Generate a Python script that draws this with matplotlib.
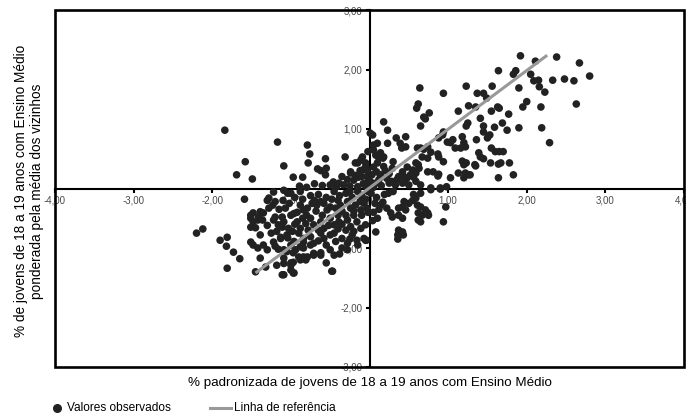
import matplotlib
matplotlib.use("Agg")
import matplotlib.pyplot as plt
import numpy as np
from matplotlib.lines import Line2D
from matplotlib.patches import Rectangle
from matplotlib.ticker import FuncFormatter

plt.rcParams["font.family"] = ["Liberation Sans", "DejaVu Sans"]

# valores observados, por quadrante
pts_sup_esq = [
    (-1.84, 0.98), (-1.17, 0.78), (-0.79, 0.73), (-0.76, 0.58), (-1.58, 0.45),
    (-1.69, 0.23), (-1.49, 0.16), (-1.09, 0.38), (-0.97, 0.19), (-0.85, 0.19),
    (-0.78, 0.43), (-0.66, 0.33), (-0.62, 0.30), (-0.56, 0.50), (-0.55, 0.34),
    (-0.56, 0.23), (-0.31, 0.53), (-0.15, 0.43), (-0.09, 0.53), (-0.05, 0.36),
    (-0.46, 0.11), (-0.50, 0.06), (-0.39, 0.09), (-0.33, 0.06), (-0.24, 0.26),
    (-0.20, 0.14), (-0.15, 0.03), (-0.03, 0.30), (-0.10, 0.20), (-0.60, 0.05),
    (-0.70, 0.08), (-0.28, 0.15), (-0.02, 0.12), (-0.08, 0.08), (-0.35, 0.20),
    (-0.12, 0.30), (-0.42, 0.03), (-0.25, 0.04), (-0.05, 0.05), (-0.18, 0.22),
    (-0.89, 0.04), (-0.80, 0.02), (-0.18, 0.43), (-0.11, 0.48), (-0.05, 0.43),
    (-0.24, 0.28), (-0.14, 0.19), (-0.09, 0.31), (-0.03, 0.20), (-0.02, 0.62),
]

pts_sup_dir = [
    (1.92, 2.23), (2.11, 2.14), (2.38, 2.21), (2.67, 2.11), (2.80, 1.89),
    (2.48, 1.84), (2.60, 1.81), (2.33, 1.82), (2.05, 1.92), (2.09, 1.81),
    (2.15, 1.82), (2.16, 1.71), (2.23, 1.62), (1.83, 1.92), (1.86, 1.98),
    (1.90, 1.69), (2.00, 1.46), (1.95, 1.37), (2.18, 1.37), (2.63, 1.42),
    (2.19, 1.02), (2.29, 0.77), (1.90, 1.02), (1.64, 1.98), (1.56, 1.72),
    (1.37, 1.60), (1.45, 1.60), (1.49, 1.52), (1.23, 1.72), (0.94, 1.60),
    (0.64, 1.69), (0.62, 1.42), (0.60, 1.35), (0.69, 1.20), (0.71, 1.17),
    (0.76, 1.27), (0.65, 1.05), (1.13, 1.30), (1.26, 1.39), (1.35, 1.37),
    (1.55, 1.30), (1.63, 1.37), (1.65, 1.35), (1.77, 1.25), (1.69, 1.10),
    (1.75, 0.98), (1.59, 1.03), (1.41, 1.18), (1.45, 1.05), (1.45, 0.95),
    (1.53, 0.90), (1.50, 0.85), (1.25, 1.10), (1.23, 1.05), (1.36, 0.82),
    (1.18, 0.87), (1.20, 0.77), (1.22, 0.70), (1.09, 0.68), (1.16, 0.68),
    (0.94, 0.95), (0.93, 0.90), (0.99, 0.78), (1.06, 0.82), (1.03, 0.77),
    (0.88, 0.85), (1.39, 0.60), (1.41, 0.53), (1.45, 0.50), (1.55, 0.68),
    (1.60, 0.62), (1.65, 0.62), (1.70, 0.62), (1.54, 0.43), (1.64, 0.41),
    (1.67, 0.43), (1.78, 0.43), (1.35, 0.38), (1.64, 0.18), (1.83, 0.23),
    (1.18, 0.46), (1.21, 0.43), (1.23, 0.43), (1.20, 0.40), (1.13, 0.26),
    (1.22, 0.26), (1.26, 0.23), (1.20, 0.18), (1.03, 0.18), (0.94, 0.45),
    (0.87, 0.58), (0.88, 0.53), (0.74, 0.70), (0.69, 0.66), (0.78, 0.61),
    (0.65, 0.68), (0.61, 0.68), (0.67, 0.53), (0.74, 0.51), (0.59, 0.43),
    (0.62, 0.40), (0.74, 0.28), (0.81, 0.28), (0.88, 0.24), (0.87, 0.21),
    (0.48, 0.36), (0.55, 0.31), (0.59, 0.26), (0.52, 0.23), (0.43, 0.21),
    (0.56, 0.19), (0.48, 0.18), (0.34, 0.85), (0.39, 0.76), (0.46, 0.87),
    (0.41, 0.68), (0.46, 0.70), (0.23, 0.76), (0.18, 1.12), (0.23, 0.98),
    (0.05, 0.73), (0.10, 0.76), (0.01, 0.93), (0.04, 0.90), (0.05, 0.65),
    (0.14, 0.60), (0.18, 0.53), (0.17, 0.51), (0.05, 0.36), (0.10, 0.43),
    (0.09, 0.28), (0.65, 0.06), (0.78, 0.01), (0.90, 0.01), (0.98, 0.03),
    (0.08, 0.56), (0.12, 0.51), (0.18, 0.37), (0.25, 0.25), (0.29, 0.34),
    (0.14, 0.23), (0.03, 0.23), (0.01, 0.12), (0.08, 0.09), (0.22, 0.17),
    (0.25, 0.09), (0.33, 0.06), (0.42, 0.09), (0.50, 0.06), (0.59, 0.12),
    (0.37, 0.20), (0.42, 0.28), (0.63, 0.34), (0.30, 0.45), (0.35, 0.15),
    (0.15, 0.05), (0.05, 0.02), (0.20, 0.30), (0.28, 0.12), (0.45, 0.15),
    (0.12, 0.15), (1.28, 0.23), (1.34, 0.40),
]

pts_inf_dir = [
    (0.17, -0.23), (0.14, -0.28), (0.27, -0.41), (0.29, -0.48), (0.37, -0.33),
    (0.42, -0.31), (0.46, -0.36), (0.37, -0.45), (0.42, -0.50), (0.59, -0.16),
    (0.61, -0.28), (0.65, -0.31), (0.62, -0.41), (0.67, -0.45), (0.71, -0.36),
    (0.74, -0.41), (0.75, -0.45), (0.62, -0.53), (0.65, -0.56), (0.97, -0.31),
    (0.94, -0.56), (0.37, -0.70), (0.42, -0.73), (0.36, -0.78), (0.39, -0.75),
    (0.43, -0.78), (0.36, -0.85), (0.08, -0.73), (0.50, -0.25), (0.55, -0.20),
    (0.44, -0.22), (0.19, -0.10), (0.24, -0.08), (0.30, -0.05), (0.56, -0.10),
    (0.65, -0.08), (0.78, -0.02), (0.90, -0.01), (0.10, -0.50), (0.04, -0.54),
    (0.05, -0.40), (0.22, -0.33), (0.09, -0.15), (0.02, -0.08), (0.12, -0.35),
    (0.07, -0.25),
]

pts_inf_esq = [
    (-2.20, -0.75), (-2.12, -0.68), (-1.90, -0.87), (-1.81, -0.82), (-1.82, -0.97),
    (-1.73, -1.07), (-1.65, -1.18), (-1.81, -1.34), (-1.59, -0.18), (-1.28, -0.16),
    (-1.45, -1.40), (-1.32, -1.32), (-1.18, -1.29), (-1.09, -1.45), (-0.97, -1.42),
    (-1.00, -1.37), (-0.47, -1.39),
    (-1.51, -0.45), (-1.48, -0.41), (-1.41, -0.48), (-1.36, -0.53), (-1.48, -0.56),
    (-1.35, -0.41), (-1.39, -0.39), (-1.42, -0.53), (-1.51, -0.50), (-1.45, -0.66),
    (-1.51, -0.65), (-1.22, -0.53), (-1.20, -0.48), (-1.11, -0.48), (-1.16, -0.61),
    (-1.11, -0.65), (-1.28, -0.33), (-1.23, -0.28), (-1.39, -0.78), (-1.51, -0.90),
    (-1.48, -0.95), (-1.42, -1.00), (-1.35, -0.95), (-1.30, -1.03), (-1.22, -0.90),
    (-1.39, -1.17), (-1.20, -0.97), (-1.16, -1.02),
    (-1.13, -0.82), (-1.04, -0.83), (-1.00, -0.95), (-1.09, -1.03), (-0.97, -1.08),
    (-0.88, -0.98), (-0.84, -0.90), (-0.88, -1.20), (-0.84, -1.15), (-0.71, -1.12),
    (-0.62, -1.08), (-0.97, -1.24), (-1.00, -1.25), (-1.09, -1.17),
    (-1.07, -0.33), (-1.00, -0.45), (-0.96, -0.42), (-0.88, -0.28), (-0.84, -0.36),
    (-0.79, -0.33), (-0.73, -0.25), (-0.67, -0.28), (-0.62, -0.22), (-0.54, -0.36),
    (-0.50, -0.31), (-0.43, -0.33), (-0.37, -0.28), (-0.28, -0.22), (-0.24, -0.33),
    (-0.18, -0.28), (-0.11, -0.36), (-0.07, -0.25), (-0.03, -0.33),
    (-1.09, -0.56), (-1.03, -0.67), (-0.92, -0.56), (-0.88, -0.67), (-0.81, -0.59),
    (-0.75, -0.50), (-0.71, -0.61), (-0.62, -0.56), (-0.58, -0.67), (-0.50, -0.50),
    (-0.45, -0.61), (-0.39, -0.56), (-0.28, -0.53), (-0.24, -0.64), (-0.16, -0.56),
    (-0.11, -0.67), (-0.05, -0.61),
    (-1.13, -0.84), (-1.05, -0.78), (-0.96, -0.89), (-0.90, -0.75), (-0.84, -0.84),
    (-0.75, -0.81), (-0.71, -0.92), (-0.62, -0.75), (-0.58, -0.84), (-0.50, -0.78),
    (-0.43, -0.89), (-0.35, -0.84), (-0.28, -0.92), (-0.22, -0.78), (-0.16, -0.87),
    (-0.07, -0.84), (-0.04, -0.87),
    (-1.05, -1.06), (-0.94, -1.03), (-0.84, -1.00), (-0.79, -1.15), (-0.71, -1.09),
    (-0.62, -1.12), (-0.50, -1.03), (-0.45, -1.12), (-0.35, -1.00), (-0.28, -1.03),
    (-1.09, -1.26), (-1.00, -1.29), (-0.96, -1.42), (-0.81, -1.20), (-0.48, -1.39),
    (-1.11, -1.45),
    (-0.45, -0.05), (-0.38, -0.12), (-0.30, -0.08), (-0.22, -0.15), (-0.15, -0.05),
    (-0.10, -0.12), (-0.05, -0.18), (-0.55, -0.15), (-0.65, -0.10), (-0.75, -0.12),
    (-0.85, -0.18), (-0.95, -0.15), (-1.00, -0.08), (-1.10, -0.20), (-1.20, -0.22),
    (-0.60, -0.45), (-1.09, -0.03), (-1.04, -0.08), (-1.22, -0.06), (-0.88, -0.05),
    (-0.70, -0.20), (-0.40, -0.20), (-0.25, -0.05), (-0.02, -0.05), (-0.05, -0.87),
    (-0.30, -0.45), (-0.20, -0.45), (-0.40, -0.45), (-0.85, -0.50), (-0.95, -0.60),
    (-0.65, -0.70), (-0.45, -0.75), (-0.30, -0.70), (-0.20, -0.72), (-0.10, -0.45),
    (-0.02, -0.40), (-0.55, -0.95), (-0.35, -0.60), (-0.75, -0.95), (-0.90, -1.15),
    (-0.55, -1.25), (-0.38, -1.10), (-0.25, -0.85),
    (-1.30, -0.20), (-1.15, -0.35), (-1.02, -0.25), (-0.92, -0.40), (-0.80, -0.45),
    (-0.68, -0.38), (-0.58, -0.25), (-0.48, -0.18), (-0.35, -0.38), (-0.20, -0.38),
    (-0.12, -0.22), (-1.25, -0.75), (-1.30, -0.62), (-1.18, -0.72), (-0.98, -0.72),
    (-0.78, -0.70), (-0.52, -0.62), (-0.40, -0.68), (-0.15, -0.95), (-0.65, -0.88),
]

# linha de referência (extremos)
ref_x = [-1.45, 2.26]
ref_y = [-1.42, 2.24]

x_ticks = [-4, -3, -2, -1, 0, 1, 2, 3, 4]
y_ticks = [-3, -2, -1, 0, 1, 2, 3]

obs = np.array(pts_sup_esq + pts_sup_dir + pts_inf_dir + pts_inf_esq)

fig = plt.figure(figsize=(6.86, 4.2), dpi=100)
ax = fig.add_axes([55 / 686, 53 / 420, 629 / 686, 357 / 420])
ax.set_xlim(-4, 4)
ax.set_ylim(-3, 3)

# eixos cruzando na origem
ax.spines["left"].set_position(("data", 0))
ax.spines["bottom"].set_position(("data", 0))
for s in ["left", "bottom"]:
    ax.spines[s].set_linewidth(1.5)
for s in ["top", "right"]:
    ax.spines[s].set_visible(False)
# moldura
ax.add_patch(Rectangle((0, 0), 1, 1, transform=ax.transAxes, fill=False,
                       lw=1.9, edgecolor="black", clip_on=False, zorder=5))

fmt = FuncFormatter(lambda v, p: f"{v:.2f}".replace(".", ","))
ax.xaxis.set_major_formatter(fmt)
ax.yaxis.set_major_formatter(fmt)
ax.set_xticks(x_ticks)
ax.set_yticks(y_ticks)
ax.tick_params(direction="out", length=3, width=1.5, labelsize=7,
               labelcolor="#4a4a4a", pad=2)

ax.scatter(obs[:, 0], obs[:, 1], s=30, color="#222222", edgecolors="none",
           zorder=3, clip_on=False)
ax.plot(ref_x, ref_y, color="#999999", lw=2.2, zorder=4, solid_capstyle="butt")

fig.text(369.5 / 686, 1 - 383 / 420,
         "% padronizada de jovens de 18 a 19 anos com Ensino Médio",
         ha="center", va="center", fontsize=9.6)
fig.text(29 / 686, 1 - 191 / 420,
         "% de jovens de 18 a 19 anos com Ensino Médio\nponderada pela média dos vizinhos",
         ha="center", va="center", rotation=90, fontsize=9.8, linespacing=1.15)

# legenda desenhada à mão, como no original
ley = 1 - 408 / 420
fig.add_artist(Line2D([57 / 686], [ley], marker="o", ls="", color="#222222",
                      markersize=5.5, transform=fig.transFigure))
fig.text(67 / 686, ley, "Valores observados", ha="left", va="center", fontsize=8.6)
fig.add_artist(Line2D([210 / 686, 231 / 686], [ley, ley], color="#999999", lw=2.2,
                      transform=fig.transFigure))
fig.text(234 / 686, ley, "Linha de referência", ha="left", va="center", fontsize=8.6)

fig.savefig("out.png", dpi=100)
